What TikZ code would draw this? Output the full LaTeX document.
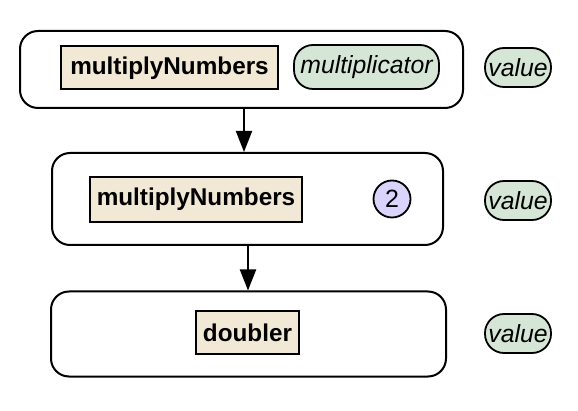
\documentclass[tikz,border=0pt]{standalone}
\usepackage{fontspec}
\setmainfont{Liberation Sans}
\usetikzlibrary{arrows.meta}
\definecolor{beige}{HTML}{F2E8D6}
\definecolor{sage}{HTML}{D5E6D6}
\definecolor{lilac}{HTML}{DAD3FC}
\begin{document}
\begin{tikzpicture}[x=1pt,y=-1pt,
  outerbox/.style={draw,line width=2pt,rounded corners=18pt,fill=white,inner sep=0pt},
  fnbox/.style={draw,line width=2pt,fill=beige,inner sep=0pt,font=\fontsize{24.3}{28}\selectfont\bfseries},
  pill/.style={draw,line width=1.8pt,fill=sage,rounded corners=19pt,inner sep=0pt,font=\fontsize{24.8}{28}\selectfont\itshape},
  numcirc/.style={draw,line width=1.8pt,fill=lilac,circle,inner sep=0pt,font=\fontsize{25}{28}\selectfont},
  conn/.style={line width=2pt,-{Triangle[length=21pt,width=16pt]}}]
\useasboundingbox (0,0) rectangle (578,411);
% outer boxes
\node[outerbox,minimum width=443pt,minimum height=77pt] (b1) at (241.5,69.5) {};
\node[outerbox,minimum width=391pt,minimum height=92pt] (b2) at (247.5,199) {};
\node[outerbox,minimum width=395pt,minimum height=85pt] (b3) at (248.5,334) {};
% inner
\node[fnbox,minimum width=217pt,minimum height=43pt] (f1) at (169.5,68) {multiplyNumbers};
\node[pill,minimum width=145pt,minimum height=44pt] (m1) at (366.5,67) {multiplicator};
\node[fnbox,minimum width=212pt,minimum height=45pt] (f2) at (196,199.5) {multiplyNumbers};
\node[numcirc,minimum size=37pt] (n2) at (392,199) {2};
\node[fnbox,minimum width=103pt,minimum height=43pt] (f3) at (247.5,333) {doubler};
% values
\node[pill,minimum width=66pt,minimum height=39pt] (v1) at (518,67.5) {value};
\node[pill,minimum width=66pt,minimum height=39pt] (v2) at (518,200.5) {value};
\node[pill,minimum width=66pt,minimum height=39pt] (v3) at (518,333.5) {value};
% connectors
\draw[conn] (b1.south -| 244,0) -- (b2.north -| 244,0);
\draw[conn] (b2.south -| 248,0) -- (b3.north -| 248,0);
\end{tikzpicture}
\end{document}
